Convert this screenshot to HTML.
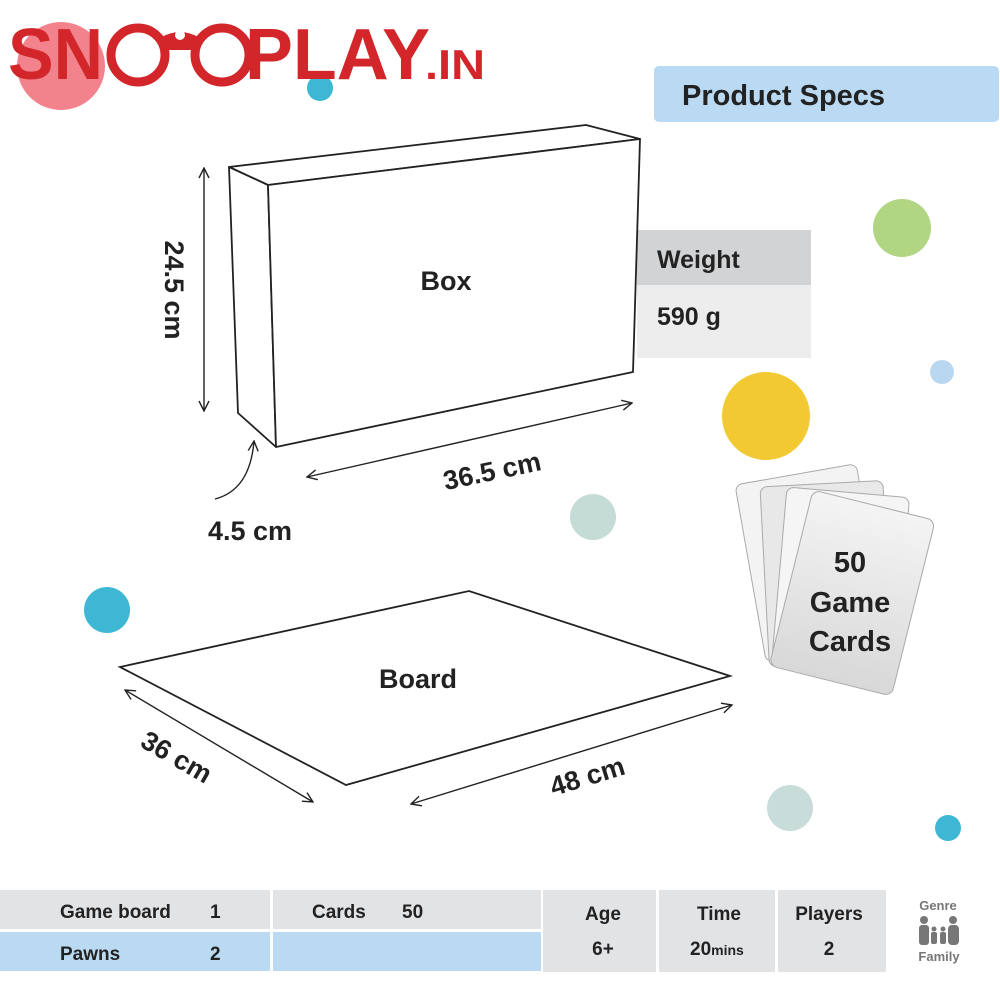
<!DOCTYPE html>
<html><head><meta charset="utf-8"><style>
html,body{margin:0;padding:0;background:#fff;}
svg{display:block;}
text{font-family:"Liberation Sans",sans-serif;font-weight:bold;}
</style></head><body>
<svg width="1000" height="1000" viewBox="0 0 1000 1000" xmlns="http://www.w3.org/2000/svg">
<defs>
<marker id="ah" viewBox="0 0 12 12" refX="11" refY="6" markerWidth="12" markerHeight="12" markerUnits="userSpaceOnUse" orient="auto-start-reverse">
<path d="M1,1 L11,6 L1,11" fill="none" stroke="#222" stroke-width="1.4"/>
</marker>
<linearGradient id="cg" x1="0" y1="0" x2="0" y2="1"><stop offset="0" stop-color="#f4f4f4"/><stop offset="1" stop-color="#d8d8d8"/></linearGradient>
</defs>
<!-- circles -->
<circle cx="61" cy="66" r="44" fill="#f2838c"/>
<circle cx="320" cy="88" r="13" fill="#3db7d4"/>
<circle cx="902" cy="228" r="29" fill="#b0d583"/>
<circle cx="942" cy="372" r="12" fill="#b9d7f0"/>
<circle cx="766" cy="416" r="44" fill="#f3c933"/>
<circle cx="593" cy="517" r="23" fill="#c4dbd6"/>
<circle cx="107" cy="610" r="23" fill="#3db7d4"/>
<circle cx="790" cy="808" r="23" fill="#c8dcd9"/>
<circle cx="948" cy="828" r="13" fill="#3db7d4"/>
<!-- logo -->
<text x="8" y="79" font-size="72" fill="#d2262a" textLength="95" lengthAdjust="spacingAndGlyphs">SN</text>
<circle cx="138" cy="55" r="27" fill="none" stroke="#d2262a" stroke-width="9"/>
<circle cx="222" cy="55" r="27" fill="none" stroke="#d2262a" stroke-width="9"/>
<path d="M160,38 Q180,26 200,38 L200,50 L160,50 Z" fill="#d2262a"/>
<circle cx="180" cy="35" r="5" fill="#fff"/>
<text x="245" y="79" font-size="72" fill="#d2262a" textLength="185" lengthAdjust="spacingAndGlyphs">PLAY</text>
<text x="425" y="79" font-size="42" fill="#d2262a" textLength="60" lengthAdjust="spacingAndGlyphs">.IN</text>
<!-- product specs -->
<rect x="654" y="66" width="345" height="56" rx="5" fill="#bad9f2"/>
<text x="682" y="105" font-size="29" fill="#222">Product Specs</text>
<!-- weight -->
<rect x="637" y="230" width="174" height="55" fill="#d2d3d5"/>
<rect x="637" y="285" width="174" height="73" fill="#ededed"/>
<text x="657" y="268" font-size="25" fill="#222">Weight</text>
<text x="657" y="325" font-size="25" fill="#222">590 g</text>
<!-- box -->
<g fill="#fff" stroke="#222" stroke-width="1.8" stroke-linejoin="round">
<polygon points="229,167 586,125 640,139 268,185"/>
<polygon points="229,167 268,185 276,447 238,413"/>
<polygon points="268,185 640,139 633,372 276,447"/>
</g>
<text x="446" y="290" font-size="27" fill="#222" text-anchor="middle">Box</text>
<line x1="204" y1="168" x2="204" y2="411" stroke="#222" stroke-width="1.4" marker-start="url(#ah)" marker-end="url(#ah)"/>
<text transform="translate(165,290) rotate(90)" font-size="27" fill="#222" text-anchor="middle">24.5 cm</text>
<line x1="307" y1="477" x2="632" y2="403" stroke="#222" stroke-width="1.4" marker-start="url(#ah)" marker-end="url(#ah)"/>
<text transform="translate(494,480) rotate(-12)" font-size="27" fill="#222" text-anchor="middle">36.5 cm</text>
<path d="M215,499 Q250,490 254,441" fill="none" stroke="#222" stroke-width="1.4" marker-end="url(#ah)"/>
<text x="250" y="540" font-size="27" fill="#222" text-anchor="middle">4.5 cm</text>
<!-- board -->
<polygon points="120,667 469,591 730,676 346,785" fill="#fff" stroke="#222" stroke-width="1.8"/>
<text x="418" y="688" font-size="27" fill="#222" text-anchor="middle">Board</text>
<line x1="125" y1="690" x2="313" y2="802" stroke="#222" stroke-width="1.4" marker-start="url(#ah)" marker-end="url(#ah)"/>
<text transform="translate(172,765) rotate(30)" font-size="27" fill="#222" text-anchor="middle">36 cm</text>
<line x1="411" y1="804" x2="732" y2="705" stroke="#222" stroke-width="1.4" marker-start="url(#ah)" marker-end="url(#ah)"/>
<text transform="translate(590,785) rotate(-17)" font-size="27" fill="#222" text-anchor="middle">48 cm</text>
<!-- cards -->
<g stroke="#aaa" stroke-width="1">
<rect x="0" y="0" width="123" height="180" rx="7" fill="#f3f3f3" transform="translate(735,485) rotate(-10)"/>
<rect x="0" y="0" width="123" height="180" rx="7" fill="#e8e8e8" transform="translate(760,487) rotate(-3)"/>
<rect x="0" y="0" width="123" height="180" rx="7" fill="#f5f5f5" transform="translate(787,487) rotate(5)"/>
<rect x="0" y="0" width="126" height="181" rx="8" fill="url(#cg)" transform="translate(813,490) rotate(14)"/>
</g>
<text x="850" y="572" font-size="29" fill="#222" text-anchor="middle">50</text>
<text x="850" y="612" font-size="29" fill="#222" text-anchor="middle">Game</text>
<text x="850" y="651" font-size="29" fill="#222" text-anchor="middle">Cards</text>
<!-- bottom table -->
<rect x="0" y="890" width="270" height="39" fill="#e2e3e5"/>
<rect x="273" y="890" width="268" height="39" fill="#e2e3e5"/>
<rect x="0" y="932" width="270" height="39" fill="#badaf2"/>
<rect x="273" y="932" width="268" height="39" fill="#badaf2"/>
<rect x="543" y="890" width="113" height="82" fill="#e2e3e5"/>
<rect x="659" y="890" width="116" height="82" fill="#e2e3e5"/>
<rect x="778" y="890" width="108" height="82" fill="#e2e3e5"/>
<g font-size="19" fill="#222">
<text x="60" y="918">Game board</text><text x="210" y="918">1</text>
<text x="312" y="918">Cards</text><text x="402" y="918">50</text>
<text x="60" y="960">Pawns</text><text x="210" y="960">2</text>
<text x="603" y="920" text-anchor="middle">Age</text>
<text x="603" y="955" text-anchor="middle">6+</text>
<text x="719" y="920" text-anchor="middle">Time</text>
<text x="690" y="955">20<tspan font-size="14">mins</tspan></text>
<text x="829" y="920" text-anchor="middle">Players</text>
<text x="829" y="955" text-anchor="middle">2</text>
</g>
<text x="938" y="910" font-size="13" fill="#777" text-anchor="middle">Genre</text>
<g fill="#777">
<circle cx="924" cy="920" r="4"/><rect x="919" y="925" width="10" height="20" rx="3"/>
<circle cx="953" cy="920" r="4"/><rect x="948" y="925" width="11" height="20" rx="4"/>
<circle cx="934" cy="929" r="2.5"/><rect x="931" y="932" width="6" height="12" rx="2"/>
<circle cx="943" cy="929" r="2.5"/><rect x="940" y="932" width="6" height="12" rx="2"/>
</g>
<text x="939" y="961" font-size="13" fill="#777" text-anchor="middle">Family</text>
</svg>
</body></html>
